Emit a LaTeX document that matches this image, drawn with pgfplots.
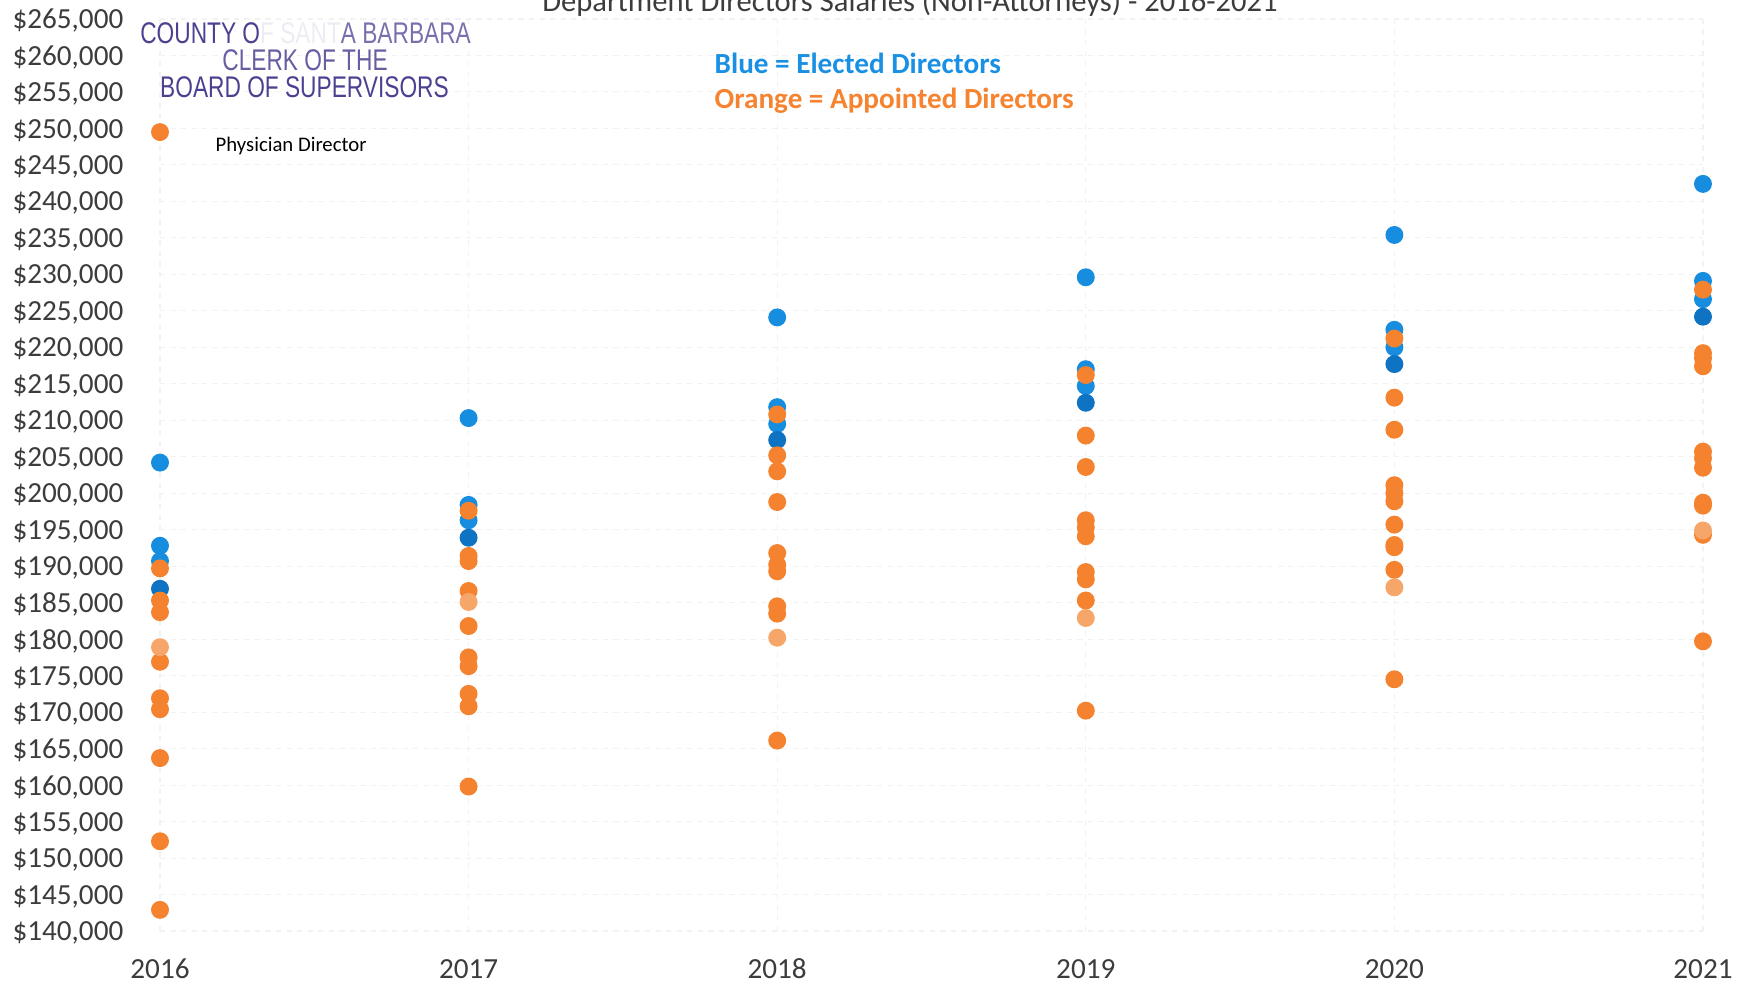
\documentclass[border=0pt]{standalone}
\usepackage{fontspec}
\setmainfont{Carlito}
\newfontfamily\stampfont[FakeStretch=0.76]{Liberation Sans}
\usepackage{pgfplots}
\usepackage{pgfplotstable}
\pgfplotsset{compat=1.18}

\definecolor{eblue}{HTML}{168DDE}
\definecolor{dblue}{HTML}{0D73C2}
\definecolor{aorange}{HTML}{F4822E}
\definecolor{lorange}{HTML}{F6A669}
\definecolor{legblue}{HTML}{1A90E4}
\definecolor{legorange}{HTML}{F5832F}
\definecolor{stamp}{HTML}{4B4191}
\definecolor{txt}{HTML}{3C3C3C}

% Elected directors (blue)
\pgfplotstableread{
year salary
2016 204200
2016 192800
2016 190700
2017 210300
2017 198400
2017 196300
2018 224100
2018 211800
2018 209500
2019 229600
2019 217000
2019 214700
2020 235400
2020 222400
2020 220000
2021 242400
2021 229100
2021 226600
}\elected

\pgfplotstableread{
year salary
2016 186900
2017 193900
2018 207300
2019 212400
2020 217700
2021 224200
}\electeddark

% Appointed directors (orange)
\pgfplotstableread{
year salary
2016 249500
2016 189700
2016 185300
2016 183700
2016 176900
2016 171900
2016 170400
2016 163700
2016 152300
2016 142900
2017 197600
2017 191400
2017 190700
2017 186600
2017 181800
2017 177500
2017 176300
2017 172500
2017 170800
2017 159800
2018 210800
2018 205200
2018 203000
2018 198800
2018 191800
2018 190200
2018 189300
2018 184500
2018 183500
2018 166100
2019 216200
2019 207900
2019 203600
2019 196300
2019 195300
2019 194100
2019 189200
2019 188200
2019 185300
2019 170200
2020 221200
2020 213100
2020 208700
2020 201100
2020 200000
2020 198900
2020 195700
2020 192900
2020 192600
2020 189500
2020 174500
2021 227900
2021 219200
2021 218500
2021 217400
2021 205700
2021 204800
2021 203500
2021 198700
2021 198300
2021 194300
2021 179700
}\appointed

\pgfplotstableread{
year salary
2016 178900
2017 185100
2018 180200
2019 182900
2020 187100
2021 194900
}\appointedlight

\begin{document}
\begin{tikzpicture}[x=1cm,y=1cm]
\begin{axis}[
  at={(1.60cm,0.56cm)}, anchor=south west,
  width=15.43cm, height=9.12cm, scale only axis,
  xmin=2016, xmax=2021, ymin=140000, ymax=265000,
  xtick={2016,2017,2018,2019,2020,2021},
  ytick={140000,145000,...,265000},
  scaled y ticks=false, scaled x ticks=false,
  axis line style={draw=none},
  major tick length=0pt,
  grid=major,
  grid style={black!5, dash pattern=on 1.5pt off 1.5pt, line width=0.3pt},
  tick label style={font=\fontsize{8.3}{10}\selectfont, text=txt},
  xticklabel={\pgfmathprintnumber[assume math mode=true,1000 sep={},fixed,precision=0]{\tick}},
  yticklabel={\$\pgfmathprintnumber[assume math mode=true,1000 sep={,},fixed,precision=0]{\tick}},
  xticklabel style={anchor=center, inner sep=0pt, yshift=-0.38cm},
  yticklabel style={anchor=east, inner sep=0pt, xshift=-0.36cm, yshift=-0.02cm},
  clip=false,
]
\addplot[only marks, mark=*, mark size=2.35pt, color=eblue] table[x=year,y=salary] {\elected};
\addplot[only marks, mark=*, mark size=2.35pt, color=dblue] table[x=year,y=salary] {\electeddark};
\addplot[only marks, mark=*, mark size=2.35pt, color=aorange] table[x=year,y=salary] {\appointed};
\addplot[only marks, mark=*, mark size=2.35pt, color=lorange] table[x=year,y=salary] {\appointedlight};
\end{axis}

% title (cut off at the top of the page)
\node[anchor=base, inner sep=0pt, font=\fontsize{8.7}{10}\selectfont, text=txt] at (9.10,9.75) {Department Directors Salaries (Non-Attorneys) - 2016-2021};

% legend text
\node[anchor=base west, inner sep=0pt, font=\fontsize{8.3}{10}\selectfont\bfseries, text=legblue] at (7.14,9.135) {Blue = Elected Directors};
\node[anchor=base west, inner sep=0pt, font=\fontsize{8.3}{10}\selectfont\bfseries, text=legorange] at (7.14,8.78) {Orange = Appointed Directors};

% annotation
\node[anchor=base west, inner sep=0pt, font=\fontsize{5.9}{7}\selectfont, text=black] at (2.15,8.35) {Physician Director};

% stamp
\begin{scope}[rotate around={-1.2:(3.05,9.14)}]
\node[anchor=base, inner sep=0pt, font=\stampfont\fontsize{8.5}{9}\selectfont, text=stamp] at (3.05,9.43) {COUNTY O\textcolor{stamp!10}{F SANT}\textcolor{stamp!75}{A BARBARA}};
\node[anchor=base, inner sep=0pt, font=\stampfont\fontsize{8.5}{9}\selectfont, text=stamp!85] at (3.05,9.16) {CLERK OF THE};
\node[anchor=base, inner sep=0pt, font=\stampfont\fontsize{8.5}{9}\selectfont, text=stamp] at (3.05,8.89) {BOARD OF SUPERVISORS};
\end{scope}

\pgfresetboundingbox
\useasboundingbox (0,0) rectangle (17.46,9.87);
\end{tikzpicture}
\end{document}
